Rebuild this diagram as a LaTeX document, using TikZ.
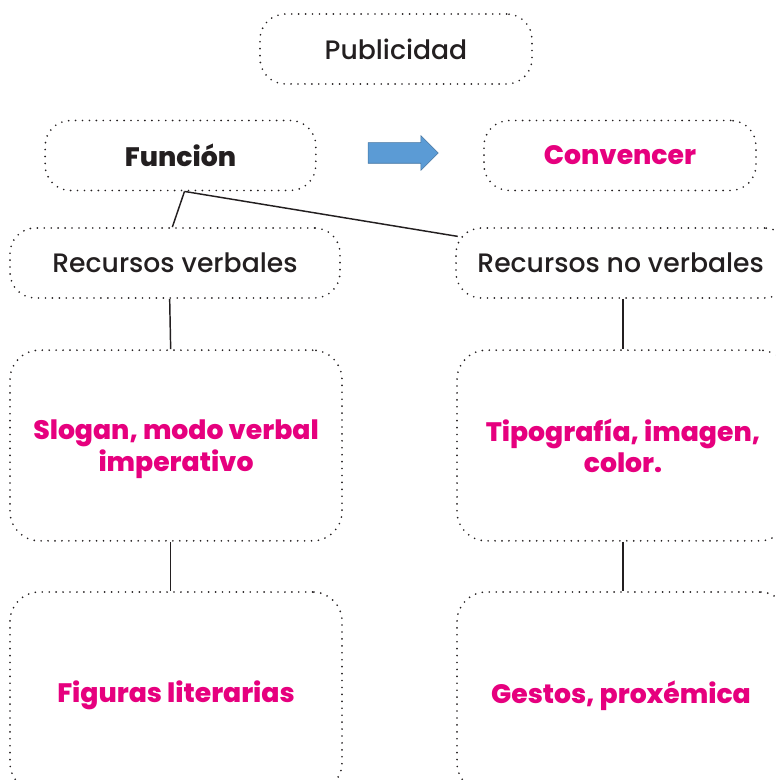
\documentclass[tikz,border=0pt]{standalone}
\usepackage{fontspec}
\setmainfont{Poppins}[UprightFont={* Medium}]
\usetikzlibrary{arrows,shapes,calc,positioning}
\definecolor{rosa}{HTML}{E6007E}
\definecolor{texto}{HTML}{231F20}
\definecolor{azul}{HTML}{5B9BD5}

\begin{document}
\begin{tikzpicture}[x=0.75pt,y=-0.75pt]
			\tikzstyle{every node}=[font=\fontsize{20}{23.5}\selectfont, text=texto]
			\tikzstyle{caja}=[draw=texto, line width=1.4pt, dash pattern=on 0pt off 5.2pt, line cap=round, rounded corners=19pt, align=center, inner sep=0pt, minimum height=52.5pt, text depth=0pt]
			\tikzstyle{grande}=[caja, rounded corners=22pt, minimum width=249pt, text depth=-4pt]
			\tikzstyle{rosa}=[text=rosa, font=\fontsize{20}{23.5}\selectfont\bfseries]
			\useasboundingbox (0,0) rectangle (775,780);
			\clip (0,0) rectangle (775,780);
			\node [caja, minimum width=204pt] (publi) at (396,49) {Publicidad};
			\node [caja, minimum width=203pt, font=\fontsize{20}{23.5}\selectfont\bfseries] (funcion) at (180.5,155.5) {Función};
			\node [caja, rosa, minimum width=204pt] (convencer) at (620,155.5) {Convencer};
			\node [single arrow, fill=azul, draw=azul!75!black, line width=0.4pt, minimum height=52.5pt, inner xsep=0pt, inner ysep=7.5pt, single arrow head extend=5.2pt, single arrow head indent=0pt] (flecha) at (398,153) {};
			\node [caja, minimum width=247.5pt] (verbales) at (175,263) {Recursos verbales};
			\node [caja, minimum width=250.5pt] (noverbales) at (623,263) {Recursos no verbales\hspace{3.5pt}};
			\node [grande, rosa, minimum height=143pt] (slogan) at (176,445.5) {Slogan, modo verbal\\imperativo};
			\node [grande, rosa, minimum height=143pt] (tipo) at (623,445.5) {Tipografía, imagen,\\color.};
			\node [grande, rosa, minimum height=150pt, text depth=0pt] (figuras) at (176,692) {Figuras literarias};
			\node [grande, rosa, minimum height=150pt, text depth=0pt] (gestos) at (623,692) {Gestos, proxémica\hspace{3pt}};
			\draw [line width=1.1pt, texto] ([xshift=3pt]funcion.south) -- ([xshift=-2pt]verbales.north);
			\draw [line width=1.1pt, texto] ([xshift=3pt]funcion.south) -- ([shift={(2pt,-7pt)}]noverbales.north west);
			\draw [line width=1.1pt, texto] ([xshift=-4pt]verbales.south) -- ([xshift=-4pt]slogan.north);
			\draw [line width=1.1pt, texto] (noverbales.south) -- (tipo.north);
			\draw [line width=1.1pt, texto] ([xshift=-4pt]slogan.south) -- ([xshift=-4pt]figuras.north);
			\draw [line width=1.1pt, texto] (tipo.south) -- (gestos.north);
		\end{tikzpicture}
\end{document}
